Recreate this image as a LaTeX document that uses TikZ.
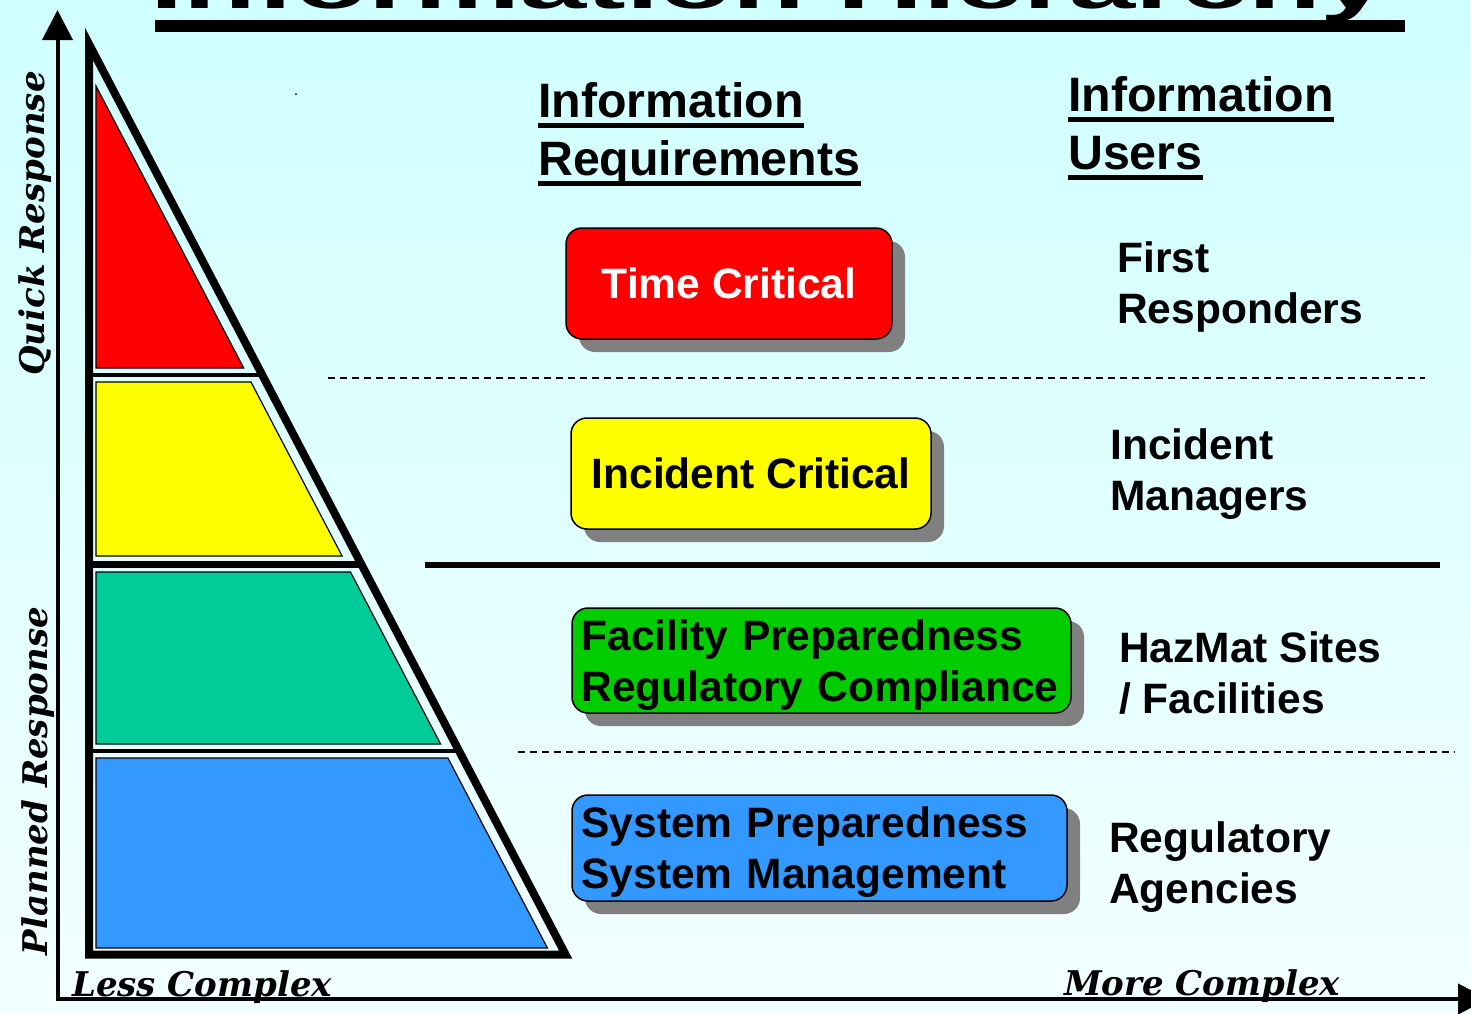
\documentclass[tikz,border=0pt]{standalone}
\usepackage{fontspec}
\setmainfont{Liberation Sans}
\newfontfamily\axisserif{DejaVu Serif}
\usetikzlibrary{arrows.meta,shadows}

\definecolor{bgtop}{RGB}{208,255,255}
\definecolor{bgbot}{RGB}{242,255,255}
\definecolor{hotred}{RGB}{255,0,0}
\definecolor{warnyellow}{RGB}{255,255,0}
\definecolor{pyrteal}{RGB}{0,204,153}
\definecolor{facgreen}{RGB}{0,204,0}
\definecolor{sysblue}{RGB}{51,153,255}
\definecolor{shadowgray}{RGB}{128,128,128}

\begin{document}
\begin{tikzpicture}[x=1pt,y=-1pt,
  reqbox/.style={draw=black, line width=1.5pt, rounded corners=16pt,
    drop shadow={shadow xshift=13pt, shadow yshift=-13pt, fill=shadowgray, opacity=1},
    font=\bfseries\fontsize{42.5}{51}\selectfont, inner sep=0pt},
  twoline/.style={align=left, inner xsep=9.5pt},
  usertext/.style={anchor=north west, inner sep=0pt, align=left,
    font=\bfseries\fontsize{42.5}{51}\selectfont},
  headtext/.style={anchor=base west, inner sep=0pt,
    font=\bfseries\fontsize{48.3}{58}\selectfont},
  uline/.style={line width=4.4pt},
  axislabel/.style={inner sep=0pt, font=\axisserif\bfseries\itshape\fontsize{34}{40}\selectfont},
  axis/.style={line width=4pt, -{Triangle[length=30pt,width=30pt]}},
  band/.style={draw=black, line width=1.2pt},
  divdash/.style={line width=1.6pt, dash pattern=on 7pt off 5pt}]

\useasboundingbox (0,0) rectangle (1471,1013);
\clip (0,0) rectangle (1471,1013);
\shade[top color=bgtop, bottom color=bgbot] (0,0) rectangle (1471,1013);

% title, mostly cut off at the top
\node[anchor=base west, inner sep=0pt, font=\bfseries\fontsize{64}{70}\selectfont] (title) at (150,8)
  {\scalebox{1.86}[1]{Information Hierarchy}};
\fill (155,20) rectangle (1405,32);

% axes
\draw[axis] (57.5,1001) -- (57.5,10);
\draw[axis] (55.5,999) -- (1488,999);

% pyramid
\draw[line width=8pt] (89,44) -- (89,954.5) -- (565.6,954.5) -- cycle;
\draw[line width=4pt] (89,375) -- (262.3,375);
\draw[line width=7pt] (89,564) -- (361.3,564);
\draw[line width=4pt] (89,751) -- (459.3,751);
\filldraw[band, fill=hotred] (96,86) -- (96,368) -- (243.7,368) -- cycle;
\filldraw[band, fill=warnyellow] (96,382) -- (251,382) -- (342.1,556) -- (96,556) -- cycle;
\filldraw[band, fill=pyrteal] (96,572) -- (350.5,572) -- (440.6,744) -- (96,744) -- cycle;
\filldraw[band, fill=sysblue] (96,758) -- (447.9,758) -- (547.4,948) -- (96,948) -- cycle;
\fill (296,94) circle [radius=1];

% axis labels
\node[axislabel, rotate=90, anchor=base] (quick) at (44,223.5) {Quick Response};
\node[axislabel, rotate=90, anchor=base] (planned) at (47,781) {Planned Response};
\node[axislabel, anchor=base west] (less) at (72,996) {Less Complex};
\node[axislabel, anchor=base west] (more) at (1064,995) {More Complex};

% column heads
\node[headtext] (reqA) at (538,117) {Information};
\node[headtext] (reqB) at (538,175) {Requirements};
\node[headtext] (usrA) at (1068,111) {Information};
\node[headtext] (usrB) at (1068,169) {Users};
\draw[uline] ([yshift=-8.5pt]reqA.base west) -- ([yshift=-8.5pt]reqA.base east);
\draw[uline] ([yshift=-8.5pt]reqB.base west) -- ([yshift=-8.5pt]reqB.base east);
\draw[uline] ([yshift=-8.5pt]usrA.base west) -- ([yshift=-8.5pt]usrA.base east);
\draw[uline] ([yshift=-8.5pt]usrB.base west) -- ([yshift=-8.5pt]usrB.base east);

% dividers
\draw[divdash] (328,378) -- (1425,378);
\draw[line width=6pt] (425,565) -- (1440,565);
\draw[divdash] (518,752) -- (1455,752);

% requirement boxes
\node[reqbox, fill=hotred, text=white, minimum width=326pt, minimum height=111pt] (tc) at (729,283.5) {Time Critical};
\node[reqbox, fill=warnyellow, minimum width=360pt, minimum height=111pt] (ic) at (751,473.5) {Incident Critical};
\node[reqbox, twoline, fill=facgreen, text width=480pt, minimum width=499pt, minimum height=105pt] (fp) at (821.5,660.5)
  {\rule{0pt}{40pt}Facility Preparedness\\Regulatory Compliance};
\node[reqbox, twoline, fill=sysblue, text width=476pt, minimum width=495pt, minimum height=106pt] (sp) at (819.5,848)
  {\rule{0pt}{38pt}System Preparedness\\System Management};

% users
\node[usertext] (first) at (1117,241) {First\\Responders};
\node[usertext] (incmgr) at (1110,428) {Incident\\Managers};
\node[usertext] (hazmat) at (1119,631) {HazMat Sites\\/ Facilities};
\node[usertext] (regag) at (1109,821) {Regulatory\\Agencies};
\end{tikzpicture}
\end{document}
